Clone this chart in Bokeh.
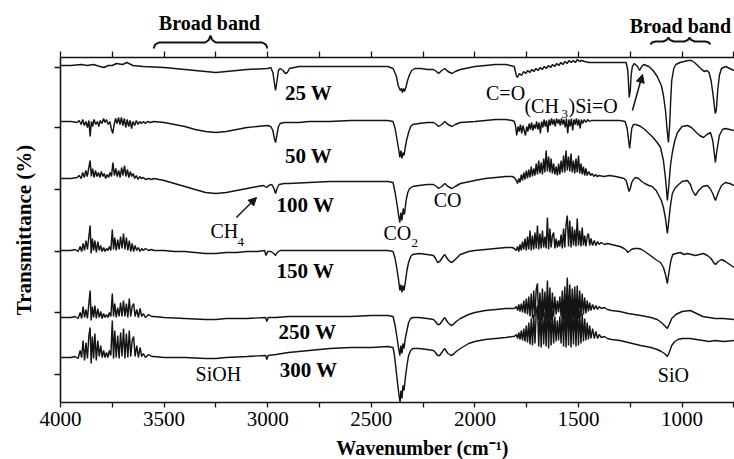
from bokeh.plotting import figure
from bokeh.layouts import column
from bokeh.models import Range1d, LinearAxis, FixedTicker, Label, Arrow, NormalHead
from bokeh.core.properties import value
from bokeh.embed import file_html
from bokeh.resources import INLINE

SERIF = "Liberation Serif"
INK = "#141414"

# ---- data: (wavenumber cm-1, transmittance a.u. with stacking offset) ----
S_25W = [(4000,337),(3950,337),(3900,338),(3870,337),(3840,338),(3810,336),(3790,335),(3770,337),(3750,337),(3730,339),(3700,338),(3680,340),(3650,337),(3600,336),(3500,335),(3400,333),(3300,331),(3250,330),(3200,331),(3100,333),(3000,334),(2985,335),(2975,330),(2968,320),(2962,312),(2955,322),(2948,332),(2940,334),(2925,332),(2915,329),(2905,330),(2895,334),(2850,336),(2800,336),(2700,336),(2600,336),(2500,336),(2420,336),(2395,334),(2380,327),(2370,317),(2360,312),(2355,314),(2350,310),(2345,314),(2340,311),(2332,316),(2325,322),(2315,328),(2305,332),(2290,334),(2260,334),(2230,333),(2200,333),(2185,331),(2175,329),(2160,332),(2145,334),(2130,331),(2110,329),(2095,331),(2070,333),(2000,336),(1950,337),(1900,338),(1850,338),(1810,336),(1800,327),(1795,325),(1785,329),(1775,327),(1765,331),(1755,329),(1745,332),(1735,330),(1725,333),(1715,331),(1705,334),(1695,332),(1685,335),(1675,333),(1665,336),(1655,334),(1645,337),(1635,335),(1625,338),(1615,336),(1605,339),(1595,337),(1585,340),(1575,338),(1565,341),(1555,339),(1545,342),(1535,340),(1525,342),(1515,340),(1505,343),(1495,341),(1485,342),(1470,341),(1450,340),(1400,340),(1350,340),(1300,340),(1270,340),(1262,332),(1258,317),(1255,305),(1250,312),(1246,327),(1240,336),(1230,339),(1215,336),(1205,332),(1195,336),(1185,338),(1160,336),(1140,332),(1120,326),(1100,317),(1090,307),(1080,292),(1072,272),(1066,260),(1060,277),(1055,302),(1050,322),(1040,334),(1030,338),(1010,340),(990,341),(970,342),(955,342),(940,340),(920,336),(900,332),(890,331),(880,332),(870,330),(860,322),(850,307),(840,289),(835,292),(828,312),(820,327),(810,334),(790,336),(770,334),(750,332)]

S_50W = [(4000,281),(3950,281),(3920,280),(3910,282),(3900,278),(3893,283),(3885,277),(3877,281),(3870,275),(3863,282),(3857,266),(3851,281),(3845,276),(3838,283),(3830,278),(3822,281),(3815,276),(3808,282),(3800,279),(3792,284),(3785,280),(3778,283),(3770,278),(3762,281),(3755,274),(3748,269),(3741,278),(3734,284),(3727,279),(3720,285),(3713,278),(3706,285),(3699,277),(3692,284),(3685,275),(3678,283),(3671,276),(3664,282),(3657,274),(3650,281),(3642,277),(3634,282),(3626,278),(3618,281),(3610,279),(3600,281),(3590,279),(3580,281),(3565,280),(3550,281),(3500,280),(3450,278),(3400,276),(3350,273),(3300,271),(3250,270),(3200,271),(3150,273),(3100,275),(3050,276),(3000,277),(2985,276),(2975,272),(2968,264),(2962,260),(2956,267),(2948,276),(2940,279),(2920,280),(2900,280),(2850,280),(2800,281),(2700,281),(2600,282),(2500,282),(2420,282),(2395,281),(2385,274),(2375,262),(2367,252),(2362,245),(2357,252),(2352,244),(2347,250),(2342,247),(2337,254),(2330,262),(2320,270),(2310,276),(2300,278),(2270,279),(2230,280),(2200,280),(2185,278),(2175,276),(2160,278),(2145,281),(2130,278),(2110,276),(2095,278),(2070,280),(2000,281),(1950,282),(1900,283),(1850,283),(1820,282),(1810,281),(1805,278),(1798,267),(1792,276),(1786,271),(1780,278),(1774,269),(1768,277),(1762,272),(1756,267),(1750,276),(1744,271),(1738,279),(1732,273),(1726,280),(1720,272),(1714,278),(1708,274),(1702,281),(1696,273),(1690,280),(1684,269),(1678,281),(1672,275),(1666,283),(1660,276),(1654,282),(1648,270),(1642,283),(1636,277),(1630,284),(1624,278),(1618,283),(1612,276),(1606,284),(1600,279),(1594,283),(1588,277),(1582,284),(1576,278),(1570,283),(1564,275),(1558,284),(1552,269),(1546,283),(1540,276),(1534,284),(1528,272),(1522,283),(1516,278),(1510,284),(1504,277),(1498,283),(1492,274),(1486,283),(1480,279),(1472,283),(1464,280),(1456,283),(1448,281),(1440,282),(1420,282),(1400,282),(1350,282),(1300,282),(1275,281),(1265,274),(1258,262),(1253,254),(1248,264),(1243,274),(1235,278),(1225,278),(1210,277),(1200,276),(1180,273),(1160,269),(1140,265),(1120,260),(1104,255),(1090,242),(1080,224),(1071,202),(1064,217),(1056,237),(1047,250),(1035,262),(1022,270),(1000,276),(974,277),(955,275),(936,271),(915,267),(897,265),(880,268),(863,270),(852,262),(845,250),(839,240),(832,252),(820,267),(805,273),(791,274),(770,273),(750,272)]

S_100W = [(4000,224),(3950,224),(3920,225),(3910,227),(3900,224),(3893,230),(3885,225),(3878,232),(3871,226),(3864,234),(3857,242),(3851,226),(3845,234),(3838,225),(3831,232),(3824,226),(3817,230),(3810,225),(3803,231),(3796,226),(3789,229),(3782,224),(3775,228),(3768,225),(3761,230),(3754,226),(3747,240),(3740,227),(3733,234),(3726,226),(3719,232),(3712,225),(3705,235),(3698,227),(3691,237),(3684,226),(3677,233),(3670,225),(3663,231),(3656,226),(3649,229),(3642,224),(3634,227),(3626,223),(3618,226),(3610,224),(3600,225),(3590,223),(3575,224),(3560,223),(3550,224),(3500,222),(3450,219),(3400,216),(3350,213),(3300,210),(3250,209),(3200,210),(3150,212),(3100,214),(3050,216),(3020,217),(3005,215),(2995,217),(2980,218),(2970,214),(2962,209),(2955,214),(2945,218),(2920,219),(2900,219),(2800,220),(2700,221),(2600,221),(2500,221),(2420,221),(2395,220),(2385,210),(2375,197),(2368,187),(2362,180),(2357,190),(2352,182),(2346,194),(2340,188),(2332,202),(2324,210),(2315,214),(2300,216),(2270,217),(2230,218),(2200,218),(2185,216),(2175,214),(2160,216),(2145,219),(2130,216),(2110,214),(2095,216),(2070,219),(2000,222),(1950,224),(1900,225),(1850,226),(1820,226),(1810,225),(1800,222),(1794,219),(1788,224),(1782,220),(1776,228),(1770,222),(1764,230),(1758,223),(1752,232),(1746,224),(1740,233),(1734,225),(1728,236),(1722,226),(1716,234),(1710,227),(1704,239),(1698,228),(1692,242),(1686,229),(1680,240),(1674,228),(1668,244),(1662,230),(1656,252),(1650,231),(1644,246),(1638,230),(1632,244),(1626,229),(1620,239),(1614,228),(1608,236),(1602,227),(1596,239),(1590,228),(1584,242),(1578,230),(1572,247),(1566,230),(1560,252),(1554,232),(1548,246),(1542,231),(1536,249),(1530,230),(1524,242),(1518,229),(1512,244),(1506,230),(1500,247),(1494,229),(1488,239),(1482,228),(1476,236),(1470,227),(1464,234),(1458,227),(1450,231),(1442,227),(1434,229),(1426,226),(1418,228),(1410,226),(1400,227),(1380,226),(1350,227),(1320,226),(1300,225),(1280,224),(1270,222),(1262,216),(1256,211),(1250,214),(1243,220),(1235,223),(1225,225),(1210,224),(1195,221),(1180,219),(1160,217),(1145,216),(1125,212),(1110,206),(1100,202),(1090,195),(1080,184),(1071,169),(1064,182),(1056,197),(1047,209),(1035,214),(1022,217),(1000,221),(974,222),(960,218),(950,212),(936,207),(920,212),(900,216),(878,217),(865,214),(852,209),(839,202),(825,210),(810,217),(791,220),(770,219),(750,217)]

S_150W = [(4000,152),(3950,152),(3930,153),(3915,151),(3905,156),(3898,151),(3891,159),(3884,152),(3877,162),(3870,153),(3863,166),(3857,177),(3852,149),(3846,164),(3840,152),(3834,162),(3827,150),(3820,161),(3813,152),(3806,157),(3799,151),(3792,155),(3785,151),(3778,154),(3771,152),(3764,156),(3757,152),(3750,173),(3744,153),(3738,165),(3731,152),(3724,163),(3717,153),(3710,166),(3703,154),(3696,169),(3689,153),(3682,165),(3675,152),(3668,162),(3661,151),(3654,159),(3647,151),(3640,157),(3632,152),(3624,155),(3616,151),(3608,154),(3600,152),(3590,154),(3575,152),(3560,153),(3550,152),(3500,152),(3450,151),(3400,151),(3350,150),(3300,149),(3250,149),(3200,150),(3150,150),(3100,151),(3050,151),(3015,152),(3008,147),(3000,151),(2985,151),(2970,149),(2962,147),(2954,150),(2940,152),(2900,152),(2800,152),(2700,152),(2600,152),(2500,152),(2420,152),(2395,151),(2385,144),(2375,132),(2368,122),(2362,112),(2357,118),(2352,110),(2347,117),(2342,112),(2336,120),(2328,132),(2320,140),(2310,146),(2300,148),(2270,149),(2230,148),(2200,147),(2190,144),(2180,140),(2170,141),(2160,144),(2150,147),(2145,148),(2140,146),(2130,143),(2115,140),(2105,141),(2090,144),(2070,148),(2030,151),(2000,152),(1950,153),(1900,154),(1850,155),(1820,155),(1810,154),(1800,152),(1794,156),(1788,151),(1782,158),(1776,152),(1770,161),(1764,153),(1758,164),(1752,152),(1746,166),(1740,153),(1734,172),(1728,152),(1722,167),(1716,153),(1710,170),(1704,154),(1698,177),(1692,153),(1686,169),(1680,154),(1674,172),(1668,155),(1662,166),(1656,154),(1650,185),(1644,153),(1638,174),(1632,155),(1626,167),(1620,170),(1614,154),(1608,164),(1602,155),(1596,162),(1590,156),(1584,168),(1578,154),(1572,174),(1566,155),(1560,178),(1554,187),(1548,156),(1542,182),(1536,155),(1530,176),(1524,157),(1518,173),(1512,156),(1506,184),(1500,157),(1494,172),(1488,156),(1482,175),(1476,157),(1470,167),(1464,156),(1458,166),(1452,169),(1446,157),(1440,164),(1432,157),(1424,162),(1416,157),(1408,161),(1400,158),(1390,160),(1375,158),(1360,159),(1340,158),(1300,156),(1280,154),(1268,152),(1262,150),(1255,151),(1245,153),(1230,154),(1210,154),(1195,153),(1180,151),(1160,148),(1140,145),(1120,142),(1104,140),(1090,135),(1080,128),(1071,119),(1062,132),(1054,142),(1045,148),(1030,149),(1008,150),(990,148),(974,149),(955,148),(936,147),(915,148),(897,149),(878,147),(860,144),(845,139),(839,138),(825,141),(810,143),(791,141),(770,138),(750,135)]

S_250W = [(4000,85),(3950,85),(3930,86),(3915,84),(3905,90),(3898,84),(3891,96),(3884,85),(3877,93),(3870,84),(3863,99),(3857,112),(3852,82),(3846,96),(3840,85),(3834,97),(3827,84),(3820,94),(3813,85),(3806,91),(3799,84),(3792,89),(3785,85),(3778,88),(3771,85),(3764,90),(3757,86),(3750,109),(3744,86),(3738,99),(3731,85),(3724,95),(3717,86),(3710,100),(3703,86),(3696,102),(3689,86),(3682,99),(3675,85),(3668,104),(3661,86),(3654,96),(3647,99),(3640,86),(3632,93),(3624,85),(3616,94),(3608,86),(3600,89),(3590,85),(3575,88),(3560,86),(3550,86),(3500,85),(3400,84),(3300,83),(3250,83),(3200,84),(3100,84),(3010,85),(3004,81),(2998,85),(2960,85),(2900,86),(2800,86),(2700,86),(2600,86),(2500,87),(2420,87),(2395,86),(2385,77),(2375,64),(2368,54),(2362,47),(2357,57),(2352,49),(2347,59),(2342,54),(2336,64),(2328,72),(2320,80),(2310,84),(2300,85),(2270,85),(2230,84),(2200,83),(2190,81),(2180,78),(2170,78),(2160,81),(2150,84),(2145,85),(2140,83),(2130,80),(2115,77),(2105,78),(2090,81),(2070,84),(2030,88),(2000,90),(1950,92),(1900,93),(1850,94),(1820,94),(1810,94),(1800,96),(1794,92),(1788,98),(1782,91),(1776,99),(1770,90),(1764,102),(1758,89),(1752,104),(1746,88),(1740,106),(1734,86),(1728,109),(1722,84),(1716,112),(1710,86),(1704,113),(1698,119),(1692,83),(1686,110),(1680,82),(1674,114),(1668,85),(1662,111),(1656,82),(1650,122),(1644,84),(1638,115),(1632,82),(1626,110),(1620,86),(1614,106),(1608,88),(1602,102),(1596,90),(1590,106),(1584,86),(1578,112),(1572,83),(1566,116),(1560,82),(1554,125),(1548,84),(1542,118),(1536,82),(1530,114),(1524,85),(1518,116),(1512,83),(1506,117),(1500,84),(1494,112),(1488,86),(1482,109),(1476,88),(1470,105),(1464,89),(1458,102),(1452,91),(1446,100),(1440,92),(1432,98),(1424,93),(1416,97),(1408,93),(1400,96),(1390,94),(1375,95),(1360,93),(1340,92),(1300,91),(1260,89),(1200,87),(1150,85),(1120,83),(1100,80),(1085,77),(1071,74),(1062,78),(1050,84),(1030,88),(1000,91),(960,92),(930,89),(900,86),(870,85),(840,84),(800,84),(750,83)]

S_300W = [(4000,45),(3950,45),(3930,46),(3915,44),(3905,52),(3898,45),(3891,62),(3884,42),(3877,60),(3870,44),(3863,67),(3857,75),(3852,39),(3846,66),(3840,44),(3834,69),(3827,42),(3820,62),(3813,46),(3806,57),(3799,45),(3792,52),(3785,45),(3778,50),(3771,45),(3764,52),(3757,47),(3750,82),(3744,44),(3738,72),(3731,45),(3724,67),(3717,44),(3710,70),(3703,46),(3696,74),(3689,44),(3682,69),(3675,45),(3668,72),(3661,46),(3654,62),(3647,66),(3640,46),(3632,57),(3624,45),(3616,55),(3608,46),(3600,49),(3590,45),(3575,48),(3560,46),(3550,46),(3500,45),(3400,45),(3300,44),(3250,44),(3200,45),(3100,46),(3010,47),(3004,43),(2998,47),(2960,48),(2900,50),(2800,52),(2700,54),(2600,55),(2500,55),(2420,56),(2395,55),(2388,47),(2380,32),(2372,17),(2366,7),(2361,0),(2357,12),(2352,4),(2347,17),(2342,12),(2336,24),(2328,37),(2320,47),(2310,52),(2300,54),(2270,54),(2230,53),(2200,52),(2190,50),(2180,47),(2170,47),(2160,50),(2150,53),(2145,54),(2140,52),(2130,49),(2115,47),(2105,48),(2090,51),(2070,54),(2030,59),(2000,61),(1950,63),(1900,64),(1850,65),(1820,66),(1810,66),(1800,68),(1794,64),(1788,70),(1782,63),(1776,72),(1770,62),(1764,74),(1758,61),(1752,77),(1746,60),(1740,80),(1734,58),(1728,84),(1722,57),(1716,88),(1710,59),(1704,90),(1698,97),(1692,56),(1686,92),(1680,55),(1674,96),(1668,58),(1662,90),(1656,56),(1650,105),(1644,54),(1638,97),(1632,57),(1626,92),(1620,59),(1614,86),(1608,61),(1602,82),(1596,62),(1590,86),(1584,59),(1578,94),(1572,56),(1566,98),(1560,55),(1554,105),(1548,57),(1542,100),(1536,55),(1530,96),(1524,58),(1518,98),(1512,56),(1506,99),(1500,57),(1494,92),(1488,59),(1482,89),(1476,61),(1470,84),(1464,62),(1458,80),(1452,63),(1446,77),(1440,64),(1432,74),(1424,64),(1416,71),(1408,64),(1400,68),(1390,65),(1375,66),(1360,64),(1340,63),(1300,62),(1260,60),(1200,57),(1150,55),(1120,53),(1100,51),(1085,49),(1071,46),(1062,50),(1050,57),(1035,61),(1020,63),(1000,64),(960,64),(930,63),(900,62),(870,61),(840,62),(800,61),(750,62)]

SERIES = [S_25W, S_50W, S_100W, S_150W, S_250W, S_300W]
SERIES_NAMES = ["25 W", "50 W", "100 W", "150 W", "250 W", "300 W"]

X_MAJOR = [4000, 3500, 3000, 2500, 2000, 1500, 1000]
X_MINOR = [3750, 3250, 2750, 2250, 1750, 1250, 750]
Y_TICKS = [28, 90, 151, 213, 275, 335]

X_RANGE = Range1d(4000, 747)


def bare_figure(height, y0, y1):
    f = figure(width=734, height=height, output_backend="svg", toolbar_location=None,
               x_range=X_RANGE, y_range=Range1d(y0, y1),
               x_axis_location=None, y_axis_location=None,
               min_border_left=60, min_border_right=0, min_border_top=0, min_border_bottom=0)
    f.outline_line_color = None
    f.xgrid.visible = False
    f.ygrid.visible = False
    f.background_fill_color = "white"
    f.border_fill_color = "white"
    return f


# ---- header strip: "Broad band" braces ----
head = bare_figure(50, 352, 402)
head.text(x=[3281, 1008], y=[380, 377], text=["Broad band", "Broad band"],
          text_font=value(SERIF), text_font_size="20px", text_font_style="bold",
          text_align="center", text_baseline="middle", text_color="black")


def brace(x_left, x_right, tips, y_end, y_flat, y_tip, d=25):
    pts = [(x_left, y_end), (x_left - d * 0.3, y_flat - (y_flat - y_end) * 0.35), (x_left - d, y_flat)]
    for t in tips:
        mid = y_flat + (y_tip - y_flat) * 0.4
        pts += [(t + d, y_flat), (t + d * 0.3, mid), (t, y_tip), (t - d * 0.3, mid), (t - d, y_flat)]
    pts += [(x_right + d, y_flat), (x_right + d * 0.3, y_flat - (y_flat - y_end) * 0.35), (x_right, y_end)]
    head.line([a for a, b in pts], [b for a, b in pts], line_color=INK, line_width=2)


brace(3551, 3001, [3276], 354, 360, 367)
brace(1153, 863, [1066, 964], 358, 361, 365)

# ---- main spectra plot ----
p = figure(width=734, height=385, output_backend="svg", toolbar_location=None,
           x_range=X_RANGE, y_range=Range1d(0, 345),
           min_border_left=60, min_border_right=0, min_border_top=7, min_border_bottom=33)
p.outline_line_color = None
p.background_fill_color = "white"
p.border_fill_color = "white"
p.xgrid.visible = False
p.ygrid.visible = False


def style_axis(ax, out):
    ax.axis_line_color = INK
    ax.axis_line_width = 1.6
    ax.major_tick_line_color = INK
    ax.minor_tick_line_color = INK
    ax.major_tick_line_width = 1.3
    ax.minor_tick_line_width = 1.3
    ax.major_tick_out = out
    ax.major_tick_in = 0
    ax.minor_tick_out = out
    ax.minor_tick_in = 0
    ax.major_label_text_font = SERIF
    ax.major_label_text_color = "black"


xa = p.xaxis[0]
xa.ticker = FixedTicker(ticks=X_MAJOR, minor_ticks=X_MINOR)
style_axis(xa, 5)
xa.major_label_text_font_size = "21px"
xa.major_label_standoff = 4

top = LinearAxis(ticker=FixedTicker(ticks=X_MAJOR, minor_ticks=X_MINOR))
style_axis(top, 6)
top.major_label_overrides = {t: "" for t in X_MAJOR}
top.major_label_standoff = 0
p.add_layout(top, "above")

ya = p.yaxis[0]
ya.ticker = FixedTicker(ticks=Y_TICKS)
style_axis(ya, 6)
ya.major_label_overrides = {t: "" for t in Y_TICKS}
ya.major_label_standoff = 0
ya.axis_label = "Transmittance (%)"
ya.axis_label_text_font = SERIF
ya.axis_label_text_font_style = "bold"
ya.axis_label_text_font_size = "21px"
ya.axis_label_text_color = "black"
ya.axis_label_standoff = 19

for s in SERIES:
    p.line([a for a, b in s], [b for a, b in s], line_color=INK, line_width=1.45)


def add_label(x, y, text, size="20px", style="normal", align="left"):
    p.add_layout(Label(x=x, y=y, text=text, text_font=SERIF, text_font_size=size,
                       text_font_style=style, text_align=align, text_baseline="middle",
                       text_color="black"))


W_POS = [(2803, 310), (2803, 247), (2818, 198), (2818, 132), (2808, 71), (2803, 33)]
for name, (lx, ly) in zip(SERIES_NAMES, W_POS):
    add_label(lx, ly, name, size="21px", style="bold", align="center")

add_label(3238, 29, "SiOH", align="center")
add_label(3276, 172, "CH")
add_label(3146, 161, "4", size="13px")
add_label(2441, 170, "CO")
add_label(2306, 160, "2", size="13px")
add_label(2132, 203, "CO", align="center")
add_label(1852, 310, "C=O", align="center")
add_label(1761, 297, "(CH")
add_label(1582, 289, "3", size="13px")
add_label(1548, 297, ")Si=O")
add_label(1042, 28, "SiO", align="center")


def arrow(x0, y0, x1, y1):
    p.add_layout(Arrow(end=NormalHead(size=8, fill_color=INK, line_color=INK, line_width=1),
                       x_start=x0, y_start=y0, x_end=x1, y_end=y1,
                       line_color=INK, line_width=1.5))


arrow(3151, 185, 3054, 205)
arrow(1240, 292, 1191, 328)

# ---- footer strip: x axis title ----
foot = bare_figure(24, -57, -33)
foot.text(x=[2253], y=[-45], text=["Wavenumber (cm\u207b\u00b9)"], text_font=value(SERIF),
          text_font_size="20px", text_font_style="bold", text_align="center",
          text_baseline="middle", text_color="black")

layout = column(head, p, foot, spacing=0)
open("out.html", "w").write(file_html(layout, INLINE))
